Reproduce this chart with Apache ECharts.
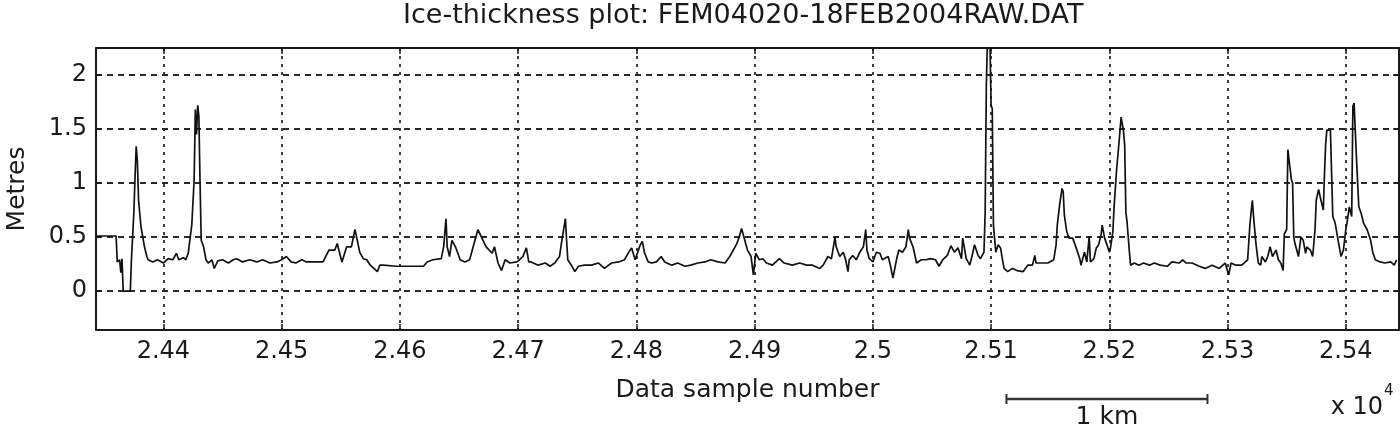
<!DOCTYPE html>
<html>
<head>
<meta charset="utf-8">
<title>Ice-thickness plot</title>
<script src="https://cdn.jsdelivr.net/npm/echarts@6.0.0/dist/echarts.min.js"></script>
<style>
  html, body { margin: 0; padding: 0; background: #fff; }
  #chart { width: 1400px; height: 429px; }
</style>
</head>
<body>
<div id="chart"></div>
<script>
  // sample number along the track
  var sampleNumbers = [
    24343, 24360, 24361, 24363, 24364, 24365, 24366, 24372, 24373, 24375,
    24376, 24377, 24378, 24379, 24381, 24384, 24386, 24387, 24391, 24395,
    24400, 24404, 24408, 24411, 24413, 24417, 24419, 24421, 24422, 24424,
    24426, 24427, 24428, 24429, 24430, 24431, 24432, 24434, 24436, 24438,
    24441, 24443, 24446, 24450, 24455, 24459, 24462, 24467, 24473, 24479,
    24484, 24490, 24496, 24500, 24504, 24508, 24512, 24517, 24521, 24526,
    24535, 24540, 24545, 24547, 24551, 24555, 24559, 24562, 24564, 24566,
    24569, 24572, 24575, 24578, 24581, 24583, 24586, 24597, 24603, 24620,
    24623, 24628, 24635, 24637, 24639, 24640, 24642, 24644, 24647, 24651,
    24655, 24659, 24662, 24666, 24669, 24673, 24678, 24680, 24683, 24686,
    24689, 24693, 24699, 24704, 24707, 24709, 24711, 24717, 24723, 24727,
    24731, 24735, 24737, 24740, 24741, 24742, 24745, 24748, 24751, 24756,
    24762, 24768, 24773, 24779, 24785, 24790, 24793, 24796, 24799, 24803,
    24805, 24807, 24810, 24813, 24817, 24821, 24824, 24830, 24835, 24841,
    24846, 24852, 24858, 24863, 24869, 24875, 24879, 24882, 24885, 24887,
    24889, 24892, 24894, 24897, 24899, 24901, 24904, 24907, 24910, 24915,
    24921, 24925, 24932, 24938, 24944, 24949, 24955, 24958, 24962, 24965,
    24968, 24969, 24972, 24975, 24977, 24979, 24980, 24983, 24986, 24989,
    24992, 24994, 24995, 24997, 25000, 25003, 25006, 25008, 25013, 25015,
    25017, 25020, 25022, 25025, 25028, 25030, 25031, 25034, 25037, 25041,
    25045, 25049, 25053, 25056, 25059, 25063, 25066, 25069, 25072, 25075,
    25076, 25079, 25082, 25084, 25086, 25089, 25091, 25094, 25095, 25096,
    25097, 25099, 25100, 25101, 25102, 25104, 25106, 25108, 25110, 25111,
    25114, 25118, 25122, 25127, 25131, 25135, 25137, 25138, 25142, 25148,
    25153, 25155, 25156, 25158, 25160, 25161, 25162, 25164, 25166, 25169,
    25172, 25175, 25176, 25179, 25181, 25183, 25184, 25187, 25189, 25191,
    25193, 25194, 25196, 25198, 25200, 25201, 25203, 25204, 25206, 25208,
    25210, 25212, 25213, 25214, 25215, 25217, 25218, 25221, 25225, 25229,
    25234, 25238, 25243, 25249, 25253, 25259, 25262, 25265, 25270, 25276,
    25281, 25287, 25293, 25298, 25301, 25303, 25307, 25312, 25317, 25319,
    25321, 25322, 25324, 25326, 25328, 25329, 25332, 25334, 25336, 25338,
    25341, 25343, 25345, 25347, 25348, 25350, 25351, 25352, 25354, 25355,
    25356, 25357, 25360, 25362, 25364, 25366, 25367, 25370, 25372, 25374,
    25375, 25377, 25379, 25381, 25382, 25383, 25384, 25387, 25388, 25389,
    25391, 25394, 25396, 25398, 25400, 25401, 25403, 25405, 25406, 25407,
    25409, 25410, 25411, 25413, 25415, 25418, 25421, 25423, 25425, 25429,
    25433, 25438, 25441, 25443
  ];

  // ice thickness in metres
  var thickness = [
    0.51, 0.51, 0.27, 0.29, 0.17, 0.30, 0.00, 0.00, 0.30, 0.72,
    1.05, 1.34, 1.20, 0.84, 0.60, 0.41, 0.32, 0.29, 0.27, 0.29,
    0.26, 0.30, 0.29, 0.35, 0.29, 0.31, 0.29, 0.35, 0.44, 0.61,
    1.03, 1.68, 1.45, 1.72, 1.62, 1.00, 0.47, 0.41, 0.29, 0.26,
    0.29, 0.21, 0.28, 0.29, 0.26, 0.29, 0.30, 0.27, 0.29, 0.27,
    0.29, 0.26, 0.27, 0.29, 0.32, 0.27, 0.26, 0.29, 0.27, 0.27,
    0.27, 0.38, 0.38, 0.44, 0.27, 0.41, 0.41, 0.57, 0.47, 0.36,
    0.30, 0.29, 0.24, 0.21, 0.18, 0.24, 0.24, 0.23, 0.23, 0.23,
    0.27, 0.29, 0.30, 0.41, 0.67, 0.41, 0.32, 0.47, 0.41, 0.29,
    0.27, 0.29, 0.41, 0.57, 0.50, 0.41, 0.35, 0.41, 0.26, 0.19,
    0.29, 0.26, 0.27, 0.32, 0.40, 0.27, 0.27, 0.24, 0.26, 0.23,
    0.26, 0.32, 0.47, 0.67, 0.47, 0.29, 0.24, 0.18, 0.23, 0.24,
    0.24, 0.26, 0.21, 0.26, 0.27, 0.29, 0.35, 0.40, 0.29, 0.42,
    0.46, 0.35, 0.27, 0.26, 0.27, 0.32, 0.27, 0.24, 0.26, 0.23,
    0.24, 0.26, 0.27, 0.29, 0.27, 0.26, 0.32, 0.38, 0.44, 0.50,
    0.58, 0.46, 0.38, 0.32, 0.15, 0.35, 0.29, 0.30, 0.26, 0.24,
    0.30, 0.26, 0.24, 0.26, 0.24, 0.24, 0.21, 0.24, 0.32, 0.30,
    0.50, 0.41, 0.32, 0.36, 0.29, 0.18, 0.29, 0.33, 0.29, 0.36,
    0.41, 0.57, 0.38, 0.30, 0.27, 0.36, 0.35, 0.29, 0.32, 0.23,
    0.12, 0.29, 0.38, 0.36, 0.41, 0.57, 0.49, 0.41, 0.26, 0.29,
    0.29, 0.30, 0.29, 0.23, 0.29, 0.33, 0.42, 0.36, 0.40, 0.30,
    0.49, 0.30, 0.24, 0.33, 0.43, 0.33, 0.30, 0.36, 0.73, 1.91,
    2.35, 2.35, 1.72, 1.69, 0.61, 0.36, 0.43, 0.40, 0.27, 0.21,
    0.18, 0.21, 0.19, 0.18, 0.24, 0.24, 0.33, 0.26, 0.26, 0.26,
    0.29, 0.43, 0.61, 0.80, 0.95, 0.92, 0.70, 0.55, 0.49, 0.49,
    0.40, 0.30, 0.24, 0.36, 0.27, 0.51, 0.27, 0.30, 0.40, 0.43,
    0.52, 0.61, 0.49, 0.43, 0.36, 0.40, 0.55, 0.77, 1.10, 1.35,
    1.61, 1.48, 1.35, 0.73, 0.64, 0.36, 0.24, 0.26, 0.24, 0.26,
    0.24, 0.26, 0.24, 0.23, 0.27, 0.26, 0.29, 0.26, 0.26, 0.23,
    0.21, 0.24, 0.21, 0.26, 0.15, 0.26, 0.24, 0.24, 0.29, 0.63,
    0.84, 0.69, 0.44, 0.26, 0.24, 0.32, 0.27, 0.32, 0.41, 0.32,
    0.38, 0.29, 0.26, 0.19, 0.53, 0.57, 1.31, 1.31, 1.03, 1.00,
    0.50, 0.44, 0.32, 0.50, 0.47, 0.35, 0.41, 0.38, 0.32, 0.57,
    0.84, 0.94, 0.84, 0.75, 1.09, 1.37, 1.49, 1.49, 1.09, 0.69,
    0.63, 0.44, 0.32, 0.38, 0.57, 0.63, 0.78, 0.69, 1.71, 1.74,
    1.24, 1.24, 0.78, 0.72, 0.63, 0.57, 0.47, 0.35, 0.29, 0.27,
    0.26, 0.27, 0.24, 0.29
  ];

  var xTicks = [24400, 24500, 24600, 24700, 24800, 24900, 25000, 25100, 25200, 25300, 25400];
  var yTicks = [0, 0.5, 1, 1.5, 2];
  var scaleBarSamples = [25113, 25283];   // 1 km along track

  var font = '"DejaVu Sans", sans-serif';
  var ink = '#1a1a1a';

  var chart = echarts.init(document.getElementById('chart'));

  var frameAxis = {
    axisLine: { show: true, onZero: false, lineStyle: { color: ink, width: 2 } },
    axisTick: { show: true, inside: true, length: 6, lineStyle: { color: ink, width: 1.5 } },
    axisLabel: { show: false },
    splitLine: { show: false }
  };

  var points = sampleNumbers.map(function (s, i) { return [s, thickness[i]]; });

  chart.setOption({
    animation: false,
    backgroundColor: '#fff',
    title: {
      text: 'Ice-thickness plot: FEM04020-18FEB2004RAW.DAT',
      left: 398,
      top: -3,
      textStyle: { fontFamily: font, fontSize: 27, fontWeight: 'normal', color: ink }
    },
    grid: { left: 96, right: 1, top: 48, bottom: 99, containLabel: false, outerBoundsMode: 'none' },
    xAxis: [{
      type: 'value',
      position: 'bottom',
      min: 24343,
      max: 25445,
      name: 'Data sample number',
      nameLocation: 'middle',
      nameGap: 48,
      nameTextStyle: { fontFamily: font, fontSize: 25, color: ink },
      axisLine: { show: true, onZero: false, lineStyle: { color: ink, width: 2 } },
      axisTick: { show: true, inside: true, length: 6, customValues: xTicks, lineStyle: { color: ink, width: 1.5 } },
      axisLabel: {
        customValues: xTicks,
        margin: 10,
        fontFamily: font, fontSize: 24, color: ink,
        formatter: function (v) { return String(+(v / 10000).toFixed(4)); }
      },
      splitLine: { show: true, lineStyle: { color: '#2a2a2a', width: 1.8, type: [3, 5] } }
    }, Object.assign({
      type: 'value', position: 'top', min: 24343, max: 25445
    }, frameAxis, { axisTick: Object.assign({}, frameAxis.axisTick, { customValues: xTicks }) })],
    yAxis: [{
      type: 'value',
      position: 'left',
      min: -0.36,
      max: 2.25,
      name: 'Metres',
      nameLocation: 'middle',
      nameRotate: 90,
      nameGap: 66,
      nameTextStyle: { fontFamily: font, fontSize: 25, color: ink },
      axisLine: { show: true, onZero: false, lineStyle: { color: ink, width: 2 } },
      axisTick: { show: true, inside: true, length: 6, customValues: yTicks, lineStyle: { color: ink, width: 1.5 } },
      axisLabel: {
        customValues: yTicks,
        margin: 9,
        fontFamily: font, fontSize: 24, color: ink,
        formatter: function (v) { return String(v); }
      },
      splitLine: { show: true, lineStyle: { color: '#2a2a2a', width: 1.8, type: [6, 5] } }
    }, Object.assign({
      type: 'value', position: 'right', min: -0.36, max: 2.25
    }, frameAxis, { axisTick: Object.assign({}, frameAxis.axisTick, { customValues: yTicks }) })],
    series: [{
      type: 'line',
      data: points,
      showSymbol: false,
      clip: true,
      lineStyle: { color: '#111', width: 1.7 },
      z: 3
    }]
  });

  // scale bar and exponent, anchored to the axis
  var barX0 = chart.convertToPixel({ xAxisIndex: 0 }, scaleBarSamples[0]);
  var barX1 = chart.convertToPixel({ xAxisIndex: 0 }, scaleBarSamples[1]);
  var axisBottom = chart.convertToPixel({ yAxisIndex: 0 }, -0.36);
  var barY = axisBottom + 69;
  var plotRight = chart.convertToPixel({ xAxisIndex: 0 }, 25445);

  chart.setOption({
    graphic: [
      { type: 'line', shape: { x1: barX0, y1: barY, x2: barX1, y2: barY }, style: { stroke: '#333', lineWidth: 2.5 } },
      { type: 'line', shape: { x1: barX0, y1: barY - 5, x2: barX0, y2: barY + 5 }, style: { stroke: '#333', lineWidth: 2 } },
      { type: 'line', shape: { x1: barX1, y1: barY - 5, x2: barX1, y2: barY + 5 }, style: { stroke: '#333', lineWidth: 2 } },
      { type: 'text', x: (barX0 + barX1) / 2, y: barY + 6,
        style: { text: '1 km', fontFamily: font, fontSize: 25, fill: ink, align: 'center', verticalAlign: 'top' } },
      { type: 'text', x: plotRight - 16, y: barY + 21,
        style: { text: 'x 10', fontFamily: font, fontSize: 24, fill: ink, align: 'right', verticalAlign: 'bottom' } },
      { type: 'text', x: plotRight - 15, y: barY - 15,
        style: { text: '4', fontFamily: font, fontSize: 15, fill: ink, align: 'left', verticalAlign: 'top' } }
    ]
  });

  window.addEventListener('resize', function () { chart.resize(); });
</script>
</body>
</html>
